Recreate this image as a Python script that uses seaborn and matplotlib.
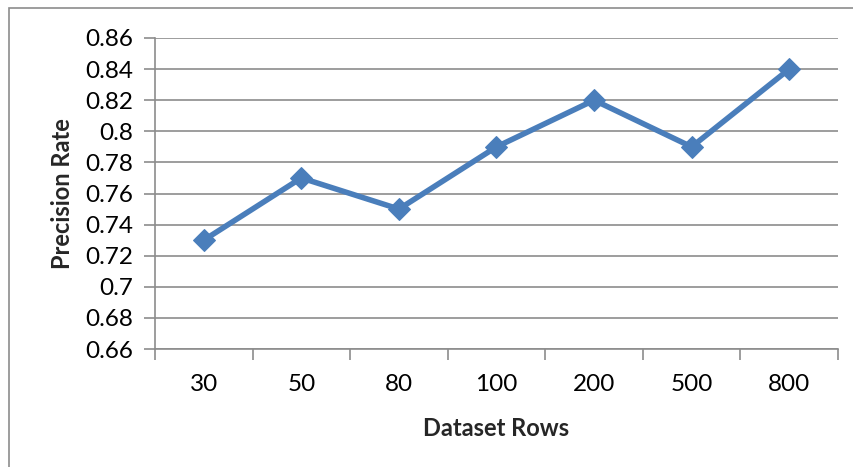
import matplotlib
matplotlib.use("Agg")
import matplotlib.pyplot as plt
from matplotlib.patches import Rectangle
from matplotlib.ticker import FixedLocator, MultipleLocator
import seaborn as sns
import pandas as pd

rows = ["30", "50", "80", "100", "200", "500", "800"]
precision = [0.73, 0.77, 0.75, 0.79, 0.82, 0.79, 0.84]

df = pd.DataFrame({"Dataset Rows": rows, "Precision Rate": precision})

sns.set_theme(style="white")
plt.rcParams["font.family"] = ["Lato", "DejaVu Sans"]

fig = plt.figure(figsize=(8.54, 4.67), dpi=100)
ax = fig.add_axes([155 / 854, 1 - 349 / 467, (838 - 155) / 854, (349 - 38) / 467])

line_color = "#4A7EBB"
sns.lineplot(data=df, x="Dataset Rows", y="Precision Rate", ax=ax,
             color=line_color, linewidth=4, marker="D", markersize=11,
             markeredgecolor=line_color, markerfacecolor=line_color,
             sort=False)

ax.set_xlim(-0.5, len(rows) - 0.5)
ax.set_ylim(0.66, 0.86)
ax.yaxis.set_major_locator(MultipleLocator(0.02))
ax.set_yticklabels([f"{v:g}" for v in ax.get_yticks()])

grid_color = "#8C8C8C"
ax.grid(axis="y", color=grid_color, linewidth=1.2)
ax.grid(axis="x", visible=False)
ax.set_axisbelow(True)

for side in ["top", "right"]:
    ax.spines[side].set_visible(False)
for side in ["left", "bottom"]:
    ax.spines[side].set_color(grid_color)
    ax.spines[side].set_linewidth(1.2)

ax.xaxis.set_minor_locator(FixedLocator([i - 0.5 for i in range(len(rows) + 1)]))
ax.tick_params(axis="x", which="major", length=0, pad=18, labelsize=17.5, colors="black")
ax.tick_params(axis="x", which="minor", length=8, width=1.2, color=grid_color, direction="out", bottom=True)
ax.tick_params(axis="y", which="major", length=8, width=1.2, color=grid_color, direction="out",
               left=True, labelsize=17.5, labelcolor="black", pad=8)

ax.set_xlabel("Dataset Rows", fontsize=17, fontweight="bold", labelpad=16)
ax.set_ylabel("Precision Rate", fontsize=17, fontweight="bold", labelpad=8)

# outer chart-area frame
fig.patches.append(Rectangle((9 / 854, -0.1), 1.2, 1 - 8 / 467 + 0.1,
                             transform=fig.transFigure, fill=False,
                             edgecolor="#8C8C8C", linewidth=1.2))

fig.savefig("out.png", dpi=100)
